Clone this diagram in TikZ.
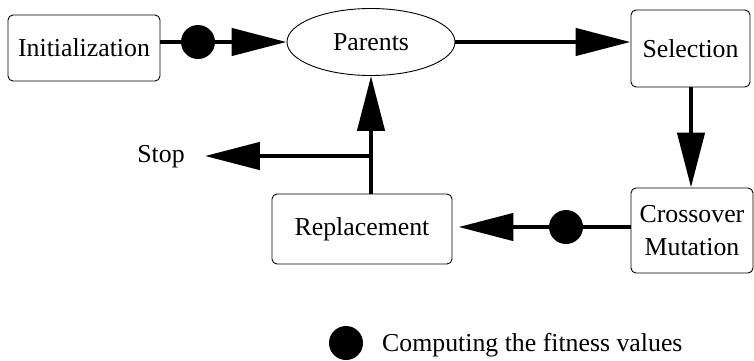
\documentclass[tikz,border=0pt]{standalone}
\usepackage{fontspec}
\setmainfont{Liberation Serif}
\usetikzlibrary{arrows.meta,shapes.geometric}
\begin{document}
\begin{tikzpicture}[x=1pt,y=-1pt,
  lbl/.style={font=\fontsize{25.8}{33}\selectfont,inner sep=0pt,align=center},
  frame/.style={draw,line width=0.9pt,inner sep=0pt},
  stage/.style={frame,rounded corners=5pt,rectangle},
  flow/.style={line width=4.5pt,-{Triangle[length=55pt,width=27pt]}},
  plain/.style={line width=4.5pt},
  fitdot/.style={circle,fill=black,inner sep=0pt,minimum size=34pt}
]
\useasboundingbox (0,0) rectangle (754,360);

% frames of the process stages
\node[stage,minimum width=152pt,minimum height=66pt] (init) at (84,48) {};
\node[frame,ellipse,minimum width=168pt,minimum height=67pt] (parents) at (371,42) {};
\node[stage,minimum width=119pt,minimum height=77pt] (sel) at (690.5,48.5) {};
\node[stage,minimum width=122pt,minimum height=85pt] (cross) at (692,230.5) {};
\node[stage,minimum width=180pt,minimum height=70pt] (rep) at (362,229) {};

% stage labels
\node[lbl] (initlbl) at (init.center) {Initialization};
\node[lbl] (parentslbl) at (parents.center) {Parents};
\node[lbl] (sellbl) at (sel.center) {Selection};
\node[lbl] (crosslbl) at (cross.center) {Crossover\\Mutation};
\node[lbl] (replbl) at (rep.center) {Replacement};
\node[lbl] (stop) at (161,157) {Stop};

% fitness evaluation markers
\node[fitdot] (dot1) at (198,42) {};
\node[fitdot] (dot2) at (566,227) {};
\coordinate (junc) at (371,156);

% connectors
\draw[flow] (init.east |- parents.west) -- (parents.west);
\draw[flow] (parents.east) -- (sel.west |- parents.east);
\draw[flow] (sel.south -| 691,0) -- (cross.north -| 691,0);
\draw[plain] (cross.west |- dot2) -- (dot2);
\draw[flow,shorten >=6pt] (dot2) -- (rep.east |- dot2);
\draw[flow] (rep.north -| junc) -- (parents.south);
\draw[flow,shorten >=20pt] (junc) -- (stop.east |- junc);

% legend
\node[fitdot] (legdot) at (346,343) {};
\node[lbl,anchor=west] (legtext) at (382,345) {Computing the fitness values};
\end{tikzpicture}
\end{document}
